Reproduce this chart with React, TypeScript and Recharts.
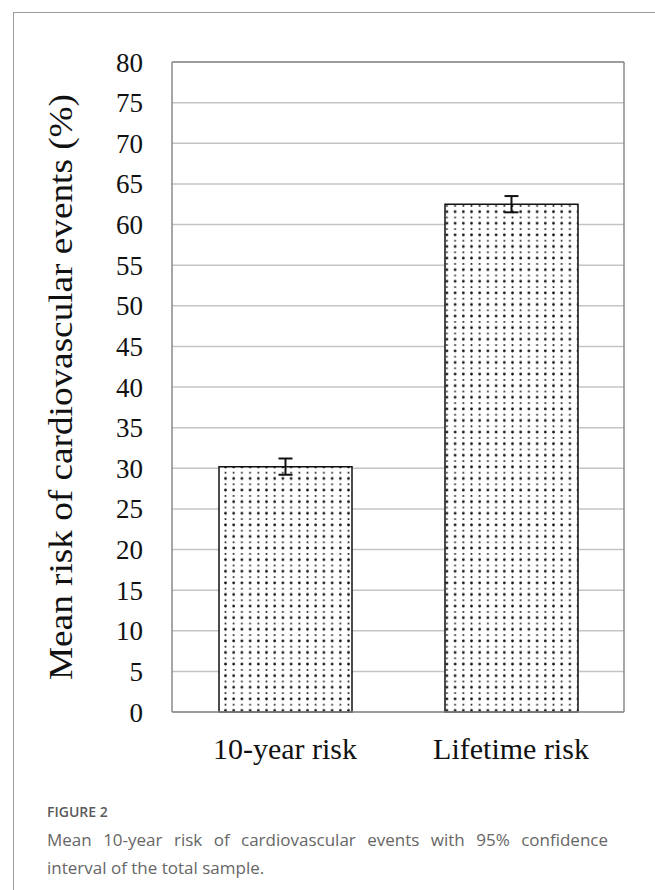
import React from 'react'
import {
  BarChart, Bar, XAxis, YAxis, CartesianGrid, ErrorBar, ReferenceLine
} from 'recharts'

const categories = ['10-year risk', 'Lifetime risk']
const meanRisk = [30.2, 62.5]
const ciHalf = [1.0, 1.0]
const yTicks = [0, 5, 10, 15, 20, 25, 30, 35, 40, 45, 50, 55, 60, 65, 70, 75, 80]

const data = categories.map((name, i) => ({ name, risk: meanRisk[i], err: ciHalf[i] }))

const serif = '"Liberation Serif", "Times New Roman", serif'
const sans = '"Open Sans", "Noto Sans", sans-serif'

const YLabel = ({ viewBox }: any) => {
  const x = viewBox.x + 32
  const y = viewBox.y + viewBox.height / 2
  return (
    <text
      x={x} y={y}
      transform={`rotate(-90, ${x}, ${y})`}
      textAnchor="middle"
      fontFamily={serif}
      fontSize={33}
      fill="#111"
      textLength={586}
      lengthAdjust="spacingAndGlyphs"
    >
      Mean risk of cardiovascular events (%)
    </text>
  )
}

export default function App() {
  return (
    <div style={{ position: 'absolute', left: 0, top: 0, width: 655, height: 890, background: '#fff', overflow: 'hidden' }}>
      <div style={{ position: 'absolute', left: 13, top: 12, width: 700, height: 900, borderLeft: '1.5px solid #9a9a9a', borderTop: '1.5px solid #9a9a9a' }} />
      <div style={{ position: 'absolute', left: 0, top: 0 }}>
        <BarChart width={655} height={780} data={data} margin={{ top: 62, right: 30, bottom: 8, left: 40 }}>
          <defs>
            <pattern id="dots" x="0" y="0" width="8.2" height="11.6" patternUnits="userSpaceOnUse">
              <rect width="8.2" height="11.6" fill="#fff" />
              <circle cx="4.1" cy="2.9" r="1.35" fill="#111" />
              <circle cx="4.1" cy="8.7" r="1.0" fill="#222" />
            </pattern>
          </defs>
          <CartesianGrid horizontal vertical={false} stroke="#c4c4c4" strokeWidth={1.5} />
          <XAxis
            dataKey="name"
            tickLine={false}
            tickSize={0}
            tickMargin={26}
            axisLine={{ stroke: '#8a8a8a', strokeWidth: 1.5 }}
            tick={{ fontFamily: serif, fontSize: 30, fill: '#111' }}
            height={60}
          />
          <YAxis
            domain={[0, 80]}
            ticks={yTicks}
            interval={0}
            tickLine={false}
            tickSize={0}
            tickMargin={29}
            axisLine={{ stroke: '#8a8a8a', strokeWidth: 1.5 }}
            tick={{ fontFamily: serif, fontSize: 27, fill: '#111' }}
            width={132}
            label={{ content: <YLabel /> }}
          />
          <YAxis
            yAxisId="right"
            orientation="right"
            domain={[0, 80]}
            tick={false}
            tickLine={false}
            axisLine={{ stroke: '#8a8a8a', strokeWidth: 1.5 }}
            width={1}
          />
          <ReferenceLine y={80} stroke="#8a8a8a" strokeWidth={1.5} />
          <Bar dataKey="risk" fill="url(#dots)" stroke="#111" strokeWidth={1.5} barSize={133} isAnimationActive={false}>
            <ErrorBar dataKey="err" width={7} stroke="#111" strokeWidth={2} direction="y" />
          </Bar>
        </BarChart>
      </div>
      <div style={{ position: 'absolute', left: 47, top: 800, width: 561, fontFamily: sans, color: '#666' }}>
        <div style={{ fontSize: 14, fontWeight: 600, color: '#5a5a5a', lineHeight: '24px' }}>FIGURE 2</div>
        <div style={{ fontSize: 17, lineHeight: '28px', textAlign: 'justify', textAlignLast: 'left', marginTop: 2 }}>
          Mean 10-year risk of cardiovascular events with 95% confidence interval of the total sample.
        </div>
      </div>
    </div>
  )
}
